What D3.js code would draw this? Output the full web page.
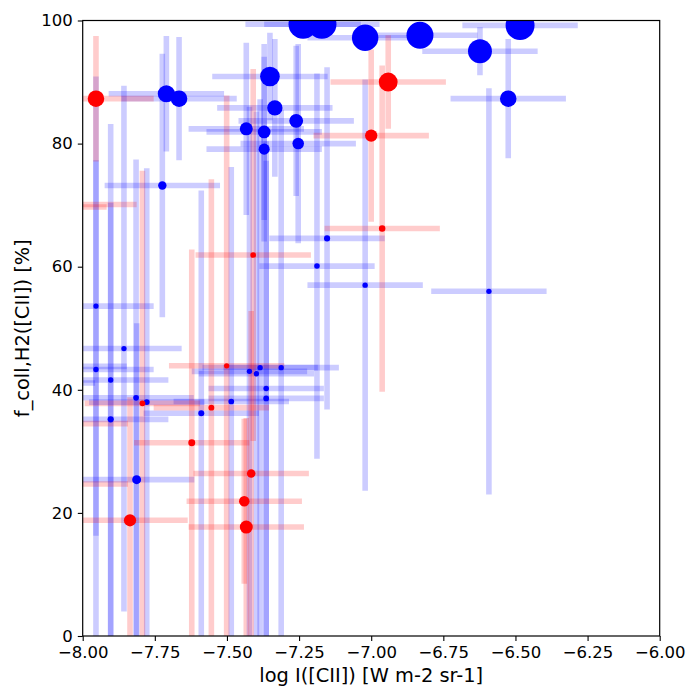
<!DOCTYPE html>
<html>
<head>
<meta charset="utf-8">
<script src="https://cdn.jsdelivr.net/npm/d3@7"></script>
<style>
  body { margin: 0; background: #fff; }
  text { font-family: "DejaVu Sans", sans-serif; }
</style>
</head>
<body>
<svg id="chart"></svg>
<script>
// data: log I([CII]) vs f_coll,H2([CII])
var blueX = [-7.236, -7.171, -7.021, -6.831, -6.623, -6.484, -7.351, -7.710, -7.666, -6.525,
             -7.334, -7.260, -7.433, -7.371, -7.253, -7.371, -7.724, -7.153, -7.188, -7.021,
             -6.592, -7.954, -7.857, -7.954, -7.903, -7.815, -7.778, -7.903, -7.813, -7.589,
             -7.485, -7.422, -7.398, -7.385, -7.312, -7.364, -7.364, -8.047, -8.157]
var blueY = [99.4, 99.4, 97.2, 97.6, 95.0, 99.2, 90.9, 88.1, 87.3, 87.3,
             85.8, 83.7, 82.4, 81.9, 80.0, 79.1, 73.2, 64.6, 60.1, 57.0,
             56.0, 53.6, 46.7, 43.3, 41.6, 38.7, 38.0, 35.2, 25.4, 36.2,
             38.1, 43.0, 42.6, 43.6, 43.6, 40.2, 38.6, 43.8, 41.1]
var blueYErrLo = [2, 2, 2, 2, 3.9, 2, 7.1, 9.4, 10, 9.7,
                  11.2, 12.2, 14, 14.3, 16.2, 15, 21.4, 27.8, 31.3, 33.4,
                  33, 37.3, 42.7, 43.3, 41.6, 38.7, 38.0, 35.2, 25.4, 36.2,
                  38.1, 43.0, 42.6, 43.6, 43.6, 40.2, 38.6, 20, 20]
var blueYErrHi = [2, 2, 2, 2, 3.9, 2, 7.1, 9.4, 10, 9.7,
                  11.2, 12.2, 14, 14.3, 16.2, 15, 21.4, 27.8, 31.3, 33.4,
                  33, 37.3, 42.7, 34.0, 41.6, 38.7, 38.0, 35.2, 25.4, 36.2,
                  38.1, 43.0, 42.6, 43.6, 41.9, 40.2, 38.6, 20, 20]

var redX = [-7.954, -6.941, -7.000, -6.962, -7.409, -7.501, -7.554, -7.793, -7.622,
            -7.416, -7.440, -7.433, -7.836, -8.013, -8.117, -8.043, -8.043]
var redY = [87.3, 90.0, 81.3, 66.2, 61.9, 43.9, 37.1, 37.8, 31.4,
            26.4, 21.9, 17.7, 18.8, 70.1, 69.7, 34.5, 24.7]
var redYErrLo = [10.2, 7.6, 14, 26.5, 30.2, 43.9, 37.1, 37.8, 31.4,
                 26.4, 13.4, 17.7, 18.8, 20, 20, 20, 20]
var redYErrHi = [10.2, 7.6, 14, 26.5, 30.2, 43.9, 37.1, 37.8, 31.4,
                 26.4, 13.4, 17.7, 20, 20, 20, 20, 20]

// same x error on every point
var xErr = 0.2

var xTicks = [-8, -7.75, -7.5, -7.25, -7, -6.75, -6.5, -6.25, -6]
var yTicks = [0, 20, 40, 60, 80, 100]

// margins
var margin = {top: 20.5, right: 40.3, bottom: 64, left: 82.7}
var width = 700 - margin.left - margin.right
var height = 700 - margin.top - margin.bottom

var svg = d3.select("#chart")
    .attr("width", 700)
    .attr("height", 700)

var g = svg.append("g")
    .attr("transform", "translate(" + margin.left + "," + margin.top + ")")

svg.append("defs").append("clipPath")
    .attr("id", "plotClip")
  .append("rect")
    .attr("width", width)
    .attr("height", height)

var x = d3.scaleLinear().domain([-8, -6]).range([0, width])
var y = d3.scaleLinear().domain([0, 100]).range([height, 0])

// marker radius grows with distance from 50%
var r = d3.scalePow().exponent(2.67).domain([0, 50]).range([2.6, 15])

function makeSeries(xs, ys, lo, hi, color) {
  return xs.map(function(d, i) {
    return {x: d, y: ys[i], lo: lo[i], hi: hi[i], color: color}
  })
}

var blue = makeSeries(blueX, blueY, blueYErrLo, blueYErrHi, "blue")
var red = makeSeries(redX, redY, redYErrLo, redYErrHi, "red")
var all = blue.concat(red)

var plot = g.append("g").attr("clip-path", "url(#plotClip)")

// error bars
var bars = plot.append("g")
    .attr("stroke-opacity", 0.2)
    .attr("stroke-width", 5.6)

all.forEach(function(d) {
  bars.append("line")
      .attr("x1", x(d.x - xErr))
      .attr("x2", x(d.x + xErr))
      .attr("y1", y(d.y))
      .attr("y2", y(d.y))
      .attr("stroke", d.color)
  bars.append("line")
      .attr("x1", x(d.x))
      .attr("x2", x(d.x))
      .attr("y1", y(d.y - d.lo))
      .attr("y2", y(d.y + d.hi))
      .attr("stroke", d.color)
})

// markers
plot.append("g")
  .selectAll("circle")
  .data(all)
  .enter().append("circle")
    .attr("cx", function(d) { return x(d.x) })
    .attr("cy", function(d) { return y(d.y) })
    .attr("r", function(d) { return r(Math.abs(d.y - 50)) })
    .attr("fill", function(d) { return d.color })

// axes
var xAxis = g.append("g")
    .attr("transform", "translate(0," + height + ")")
    .call(d3.axisBottom(x).tickValues(xTicks).tickSize(4.9).tickPadding(5)
      .tickFormat(function(d) { return d3.format(".2f")(d).replace("-", "\u2212") }))

var yAxis = g.append("g")
    .call(d3.axisLeft(y).tickValues(yTicks).tickSize(4.9).tickPadding(5)
      .tickFormat(d3.format("d")))

g.selectAll(".tick text")
    .attr("font-size", 16.5)
    .attr("font-family", "DejaVu Sans")
    .attr("fill", "#000")
g.selectAll(".tick line").attr("stroke-width", 1.1)
g.selectAll(".domain").remove()

// frame
g.append("rect")
    .attr("width", width)
    .attr("height", height)
    .attr("fill", "none")
    .attr("stroke", "#000")
    .attr("stroke-width", 1.2)

// axis labels
svg.append("text")
    .attr("x", margin.left + width / 2)
    .attr("y", 682)
    .attr("text-anchor", "middle")
    .attr("font-size", 19.4)
    .text("log I([CII]) [W m-2 sr-1]")

svg.append("text")
    .attr("transform", "translate(29," + (margin.top + height / 2) + ") rotate(-90)")
    .attr("text-anchor", "middle")
    .attr("font-size", 19.4)
    .text("f_coll,H2([CII]) [%]")
</script>
</body>
</html>
